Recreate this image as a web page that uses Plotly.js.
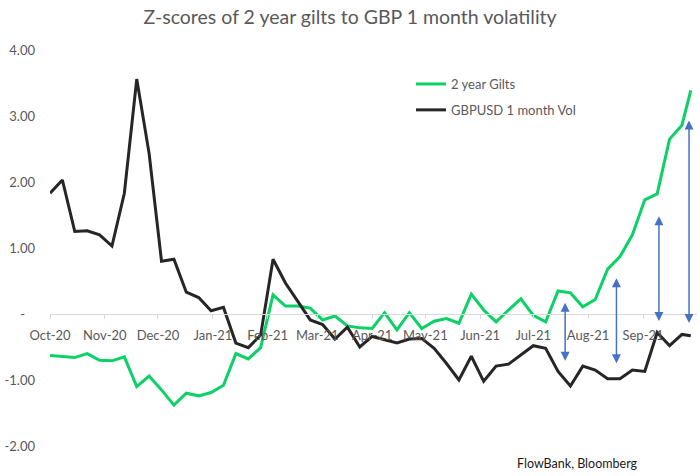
<!DOCTYPE html>
<html>
<head>
<meta charset="utf-8">
<script src="https://cdn.plot.ly/plotly-3.0.1.min.js"></script>
<style>html,body{margin:0;padding:0;background:#fff;}#chart{width:700px;height:476px;}</style>
</head>
<body>
<div id="chart"></div>
<script>
const dates = ["2020-10-01","2020-10-08","2020-10-15","2020-10-22","2020-10-29",
"2020-11-05","2020-11-12","2020-11-19","2020-11-26",
"2020-12-03","2020-12-10","2020-12-17","2020-12-24","2020-12-31",
"2021-01-07","2021-01-14","2021-01-21","2021-01-28",
"2021-02-04","2021-02-11","2021-02-18","2021-02-25",
"2021-03-04","2021-03-11","2021-03-18","2021-03-25",
"2021-04-01","2021-04-08","2021-04-15","2021-04-22","2021-04-29",
"2021-05-06","2021-05-13","2021-05-20","2021-05-27",
"2021-06-03","2021-06-10","2021-06-17","2021-06-24",
"2021-07-01","2021-07-08","2021-07-15","2021-07-22","2021-07-29",
"2021-08-05","2021-08-12","2021-08-19","2021-08-26",
"2021-09-02","2021-09-09","2021-09-16","2021-09-23","2021-09-28"];

const gilts2y = [-0.63,-0.64,-0.66,-0.60,-0.70,
-0.71,-0.65,-1.10,-0.94,
-1.15,-1.38,-1.20,-1.24,-1.19,
-1.08,-0.60,-0.68,-0.51,
0.29,0.12,0.12,0.09,
-0.09,-0.03,-0.18,-0.21,
-0.22,0.02,-0.24,0.02,-0.22,
-0.11,-0.07,-0.14,0.30,
0.06,-0.12,0.06,0.23,
-0.02,-0.12,0.35,0.32,0.11,
0.22,0.68,0.87,1.20,
1.73,1.82,2.65,2.86,3.39];

const gbpusdVol = [1.83,2.03,1.25,1.26,1.20,
1.03,1.83,3.56,2.43,
0.80,0.83,0.33,0.25,0.05,
0.10,-0.44,-0.51,-0.32,
0.83,0.47,0.19,-0.09,
-0.16,-0.38,-0.20,-0.50,
-0.34,-0.39,-0.44,-0.38,-0.37,
-0.52,-0.75,-1.00,-0.64,
-1.02,-0.79,-0.76,-0.62,
-0.48,-0.52,-0.87,-1.09,-0.79,
-0.85,-0.98,-0.98,-0.85,
-0.87,-0.28,-0.48,-0.31,-0.33];

const monthTicks = ["2020-10-01","2020-11-01","2020-12-01","2021-01-01","2021-02-01","2021-03-01",
"2021-04-01","2021-05-01","2021-06-01","2021-07-01","2021-08-01","2021-09-01"];
const monthLabels = ["Oct-20","Nov-20","Dec-20","Jan-21","Feb-21","Mar-21",
"Apr-21","May-21","Jun-21","Jul-21","Aug-21","Sep-21"];

const yTicks = [4,3,2,1,0,-1,-2];
const yLabels = ["4.00","3.00","2.00","1.00","-\u00a0\u00a0\u00a0","-1.00","-2.00"];

const arrowDates = ["2021-07-19","2021-08-17","2021-09-10","2021-09-27"];
const arrowTop = [0.17,0.54,1.48,2.93];
const arrowBottom = [-0.73,-0.77,-0.13,-0.16];

const seriesNames = ["2 year Gilts","GBPUSD 1 month Vol"];

const FONT = "Lato, 'Open Sans', sans-serif";
const GREY = "#595959";
const yMin = -2, yMax = 4;

const traces = [
  {x: dates, y: gilts2y, name: seriesNames[0], type: "scatter", mode: "lines",
   line: {color: "#0BD166", width: 3}, legendgroup: "a", hoverinfo: "skip"},
  {x: dates, y: gbpusdVol, name: seriesNames[1], type: "scatter", mode: "lines",
   line: {color: "#262626", width: 3}, legendgroup: "b", hoverinfo: "skip"}
];

const annotations = arrowDates.map((d, i) => ({
  x: d, y: arrowTop[i], ax: d, ay: arrowBottom[i],
  xref: "x", yref: "y", axref: "x", ayref: "y",
  text: "", showarrow: true, arrowside: "end+start",
  arrowhead: 2, startarrowhead: 2, arrowsize: 1.2, startarrowsize: 1.2,
  arrowwidth: 1.5, arrowcolor: "#4472C4", standoff: 0, startstandoff: 0
}));
annotations.push({
  text: "FlowBank, Bloomberg", xref: "paper", yref: "paper",
  x: 0.816, y: -0.045, xanchor: "center", yanchor: "middle",
  showarrow: false, font: {family: FONT, size: 12.5, color: "#1a1a1a"}
});

const layout = {
  width: 700, height: 476,
  margin: {l: 50, r: 3, t: 50, b: 30},
  paper_bgcolor: "#ffffff", plot_bgcolor: "#ffffff",
  title: {text: "Z-scores of 2 year gilts to GBP 1 month volatility",
          x: 0.5, xref: "container", xanchor: "center",
          y: 0.964, yref: "container", yanchor: "middle",
          font: {family: FONT, size: 19.5, color: GREY}},
  xaxis: {type: "date", range: ["2020-10-01", "2021-10-01 12:00"],
          anchor: "free", position: (0 - yMin) / (yMax - yMin),
          showline: true, linecolor: "#d9d9d9", linewidth: 1,
          ticks: "outside", ticklen: 4, tickcolor: "#d9d9d9",
          tickvals: monthTicks, ticktext: monthLabels,
          showgrid: false, zeroline: false, ticklabelstandoff: 5,
          tickfont: {family: FONT, size: 13, color: GREY}},
  yaxis: {range: [yMin, yMax], tickvals: yTicks, ticktext: yLabels,
          showgrid: false, zeroline: false, showline: false, ticks: "",
          ticklabelstandoff: 14,
          tickfont: {family: FONT, size: 13, color: GREY}},
  showlegend: true,
  legend: {x: 0.558, y: 0.952, xanchor: "left", yanchor: "top",
           bgcolor: "rgba(0,0,0,0)", traceorder: "grouped", tracegroupgap: 6,
           font: {family: FONT, size: 13, color: GREY}},
  annotations: annotations
};

Plotly.newPlot("chart", traces, layout, {displayModeBar: false, staticPlot: true});
</script>
</body>
</html>
